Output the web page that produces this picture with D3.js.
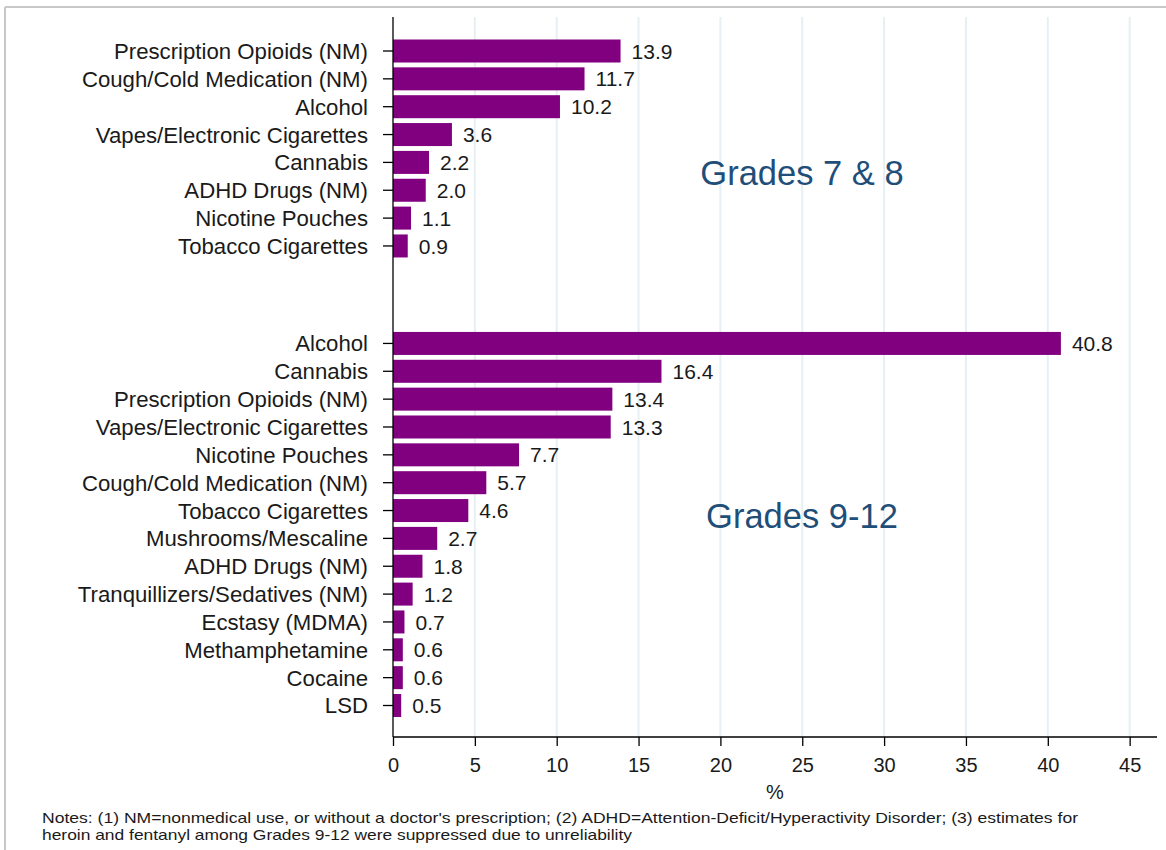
<!DOCTYPE html>
<html><head><meta charset="utf-8">
<script src="https://cdn.jsdelivr.net/npm/d3@7"></script>
<style>body{margin:0;background:#fff;}svg{display:block;font-family:Arial,"Liberation Sans",sans-serif;}</style>
</head><body><svg id="chart" width="1166" height="850"></svg>
<script>
const grade78Categories = ["Prescription Opioids (NM)","Cough/Cold Medication (NM)","Alcohol","Vapes/Electronic Cigarettes","Cannabis","ADHD Drugs (NM)","Nicotine Pouches","Tobacco Cigarettes"];
const grade78Values = [13.9,11.7,10.2,3.6,2.2,2.0,1.1,0.9];
const grade912Categories = ["Alcohol","Cannabis","Prescription Opioids (NM)","Vapes/Electronic Cigarettes","Nicotine Pouches","Cough/Cold Medication (NM)","Tobacco Cigarettes","Mushrooms/Mescaline","ADHD Drugs (NM)","Tranquillizers/Sedatives (NM)","Ecstasy (MDMA)","Methamphetamine","Cocaine","LSD"];
const grade912Values = [40.8,16.4,13.4,13.3,7.7,5.7,4.6,2.7,1.8,1.2,0.7,0.6,0.6,0.5];
const groupLabels = ["Grades 7 & 8","Grades 9-12"];
const xTicks = [0,5,10,15,20,25,30,35,40,45];
const notes = ["Notes: (1) NM=nonmedical use, or without a doctor's prescription; (2) ADHD=Attention-Deficit/Hyperactivity Disorder; (3) estimates for","heroin and fentanyl among Grades 9-12 were suppressed due to unreliability"];

const svg = d3.select("#chart");
// frame
svg.append("line").attr("x1",5).attr("x2",1166).attr("y1",7).attr("y2",7).attr("stroke","#c8c8c8").attr("stroke-width",2);
svg.append("line").attr("x1",5).attr("x2",5).attr("y1",7).attr("y2",850).attr("stroke","#c8c8c8").attr("stroke-width",2);

const x0 = 393, xEnd = 1157, yTop = 17, yBot = 737;
const x = d3.scaleLinear().domain([0,45]).range([x0, x0 + 45*16.37]);
const rows = [];
grade78Categories.forEach((c,i)=>rows.push({cat:c,val:grade78Values[i],pos:i}));
grade912Categories.forEach((c,i)=>rows.push({cat:c,val:grade912Values[i],pos:10.5+i}));
const y = d3.scaleLinear().domain([0,23.5]).range([51,705.5]);
const barH = 23;

// gridlines
svg.append("g").selectAll("line").data(xTicks.filter(t=>t>0)).join("line")
  .attr("x1",d=>x(d)).attr("x2",d=>x(d)).attr("y1",yTop).attr("y2",yBot)
  .attr("stroke","#e6f0f2").attr("stroke-width",2);

// bars
svg.append("g").selectAll("rect").data(rows).join("rect")
  .attr("x",x(0)).attr("y",d=>y(d.pos)-barH/2).attr("width",d=>x(d.val)-x(0)).attr("height",barH)
  .attr("fill","#800080");

// value labels
svg.append("g").selectAll("text").data(rows).join("text")
  .attr("x",d=>x(d.val)+11).attr("y",d=>y(d.pos)).attr("dy","0.36em")
  .attr("font-size",21).attr("fill","#1a1a1a").text(d=>d.val.toFixed(1));

// y axis
svg.append("line").attr("x1",x0).attr("x2",x0).attr("y1",yTop).attr("y2",yBot).attr("stroke","#000").attr("stroke-width",1.3);
const yg = svg.append("g");
yg.selectAll("line").data(rows).join("line")
  .attr("x1",x0-10).attr("x2",x0).attr("y1",d=>y(d.pos)).attr("y2",d=>y(d.pos)).attr("stroke","#000").attr("stroke-width",1.3);
yg.selectAll("text").data(rows).join("text")
  .attr("x",x0-25).attr("y",d=>y(d.pos)).attr("dy","0.36em").attr("text-anchor","end")
  .attr("font-size",22.2).attr("fill","#1a1a1a").text(d=>d.cat);

// x axis
const xAxis = d3.axisBottom(x).tickValues(xTicks).tickSize(9).tickPadding(12).tickFormat(d3.format("d"));
const xg = svg.append("g").attr("transform",`translate(0,${yBot})`).call(xAxis);
xg.select(".domain").remove();
xg.selectAll(".tick line").attr("stroke","#000").attr("stroke-width",1.3);
xg.selectAll(".tick text").attr("font-size",20).attr("fill","#1a1a1a").attr("font-family","Arial, 'Liberation Sans', sans-serif");
svg.append("line").attr("x1",x0).attr("x2",xEnd).attr("y1",yBot).attr("y2",yBot).attr("stroke","#000").attr("stroke-width",1.3);

svg.append("text").attr("x",775).attr("y",792).attr("dy","0.36em").attr("text-anchor","middle").attr("font-size",20).attr("fill","#1a1a1a").text("%");

// group labels
svg.append("text").attr("x",802).attr("y",173).attr("dy","0.36em").attr("text-anchor","middle").attr("font-size",34.5).attr("fill","#1f4e79").text(groupLabels[0]);
svg.append("text").attr("x",802).attr("y",516).attr("dy","0.36em").attr("text-anchor","middle").attr("font-size",34.5).attr("fill","#1f4e79").text(groupLabels[1]);

// notes
const noteLens = [1036, 590];
svg.append("g").selectAll("text").data(notes).join("text")
  .attr("x",42).attr("y",(d,i)=>818+i*16.5).attr("dy","0.36em").attr("font-size",14.5).attr("fill","#1a1a1a")
  .attr("textLength",(d,i)=>noteLens[i]).attr("lengthAdjust","spacingAndGlyphs").text(d=>d);
</script></body></html>
